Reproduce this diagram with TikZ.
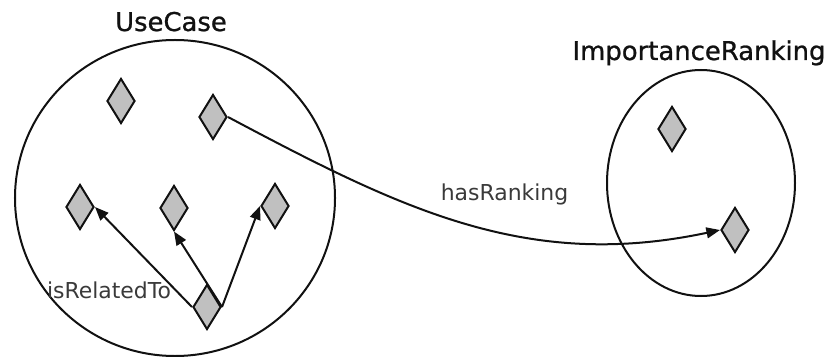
\documentclass[tikz,border=0pt]{standalone}
\usepackage{fontspec}
\setmainfont{DejaVu Sans}
\newfontfamily\ontoheadfont[FakeBold=0.9]{DejaVu Sans}
\usetikzlibrary{arrows.meta,shapes.geometric,backgrounds}
\definecolor{ontoInk}{HTML}{111111}
\definecolor{ontoMuted}{HTML}{3A3A3A}
\definecolor{ontoGrayFill}{HTML}{C0C0C0}
\tikzset{
  onto/base/.style={draw=ontoInk, line width=0.5mm},
  onto/class/.style={onto/base, shape=ellipse, inner sep=0pt},
  onto/individual/.style={onto/base, shape=diamond, fill=ontoGrayFill,
    inner sep=0pt, minimum width=7mm, minimum height=11.25mm},
  onto/arrow/.style={-{Triangle[length=3.4mm,width=2.7mm]}, draw=ontoInk,
    line width=0.5mm},
  onto/heading/.style={font=\ontoheadfont\fontsize{18.4pt}{21pt}\selectfont,
    text=ontoInk, inner sep=0pt},
  onto/label/.style={font=\fontsize{15.6pt}{18pt}\selectfont,
    text=ontoMuted, inner sep=0pt},
}

\begin{document}
\begin{tikzpicture}[
  x=0.25mm, y=0.25mm,
  title/.style={onto/heading, anchor=base},
  relname/.style={onto/label, anchor=base},
  rel/.style={onto/arrow}
]
\useasboundingbox (0,0) rectangle (829,356);
% classes
\node[onto/class, minimum width=80mm, minimum height=79mm] (usecase) at (175,158) {};
\node[onto/class, minimum width=47mm, minimum height=56.5mm] (ranking) at (701,173) {};
\node[title] (usecaseTitle) at (171,325) {UseCase};
\node[title] (rankingTitle) at (699,296) {ImportanceRanking};
% individuals
\node[onto/individual] (uc1) at (121,255) {};
\node[onto/individual] (uc2) at (213,239) {};
\node[onto/individual] (uc3) at (80,149) {};
\node[onto/individual] (uc4) at (174,148) {};
\node[onto/individual] (uc5) at (275,150) {};
\node[onto/individual] (uc6) at (207,49) {};
\node[onto/individual] (ir1) at (672,227) {};
\node[onto/individual] (ir2) at (735,126) {};
% relations
\begin{scope}[on background layer]
\draw[rel] (uc6.west) -- (uc3.east);
\draw[rel] (uc6.east) -- (uc4.south);
\draw[rel] (uc6.east) -- (uc5.west);
\end{scope}
\draw[rel] (uc2.east) to[out=-28, in=192] (ir2.west);
\node[relname] (relatedLabel) at (109,58) {isRelatedTo};
\node[relname] (rankingLabel) at (504.5,156) {hasRanking};
\end{tikzpicture}
\end{document}
